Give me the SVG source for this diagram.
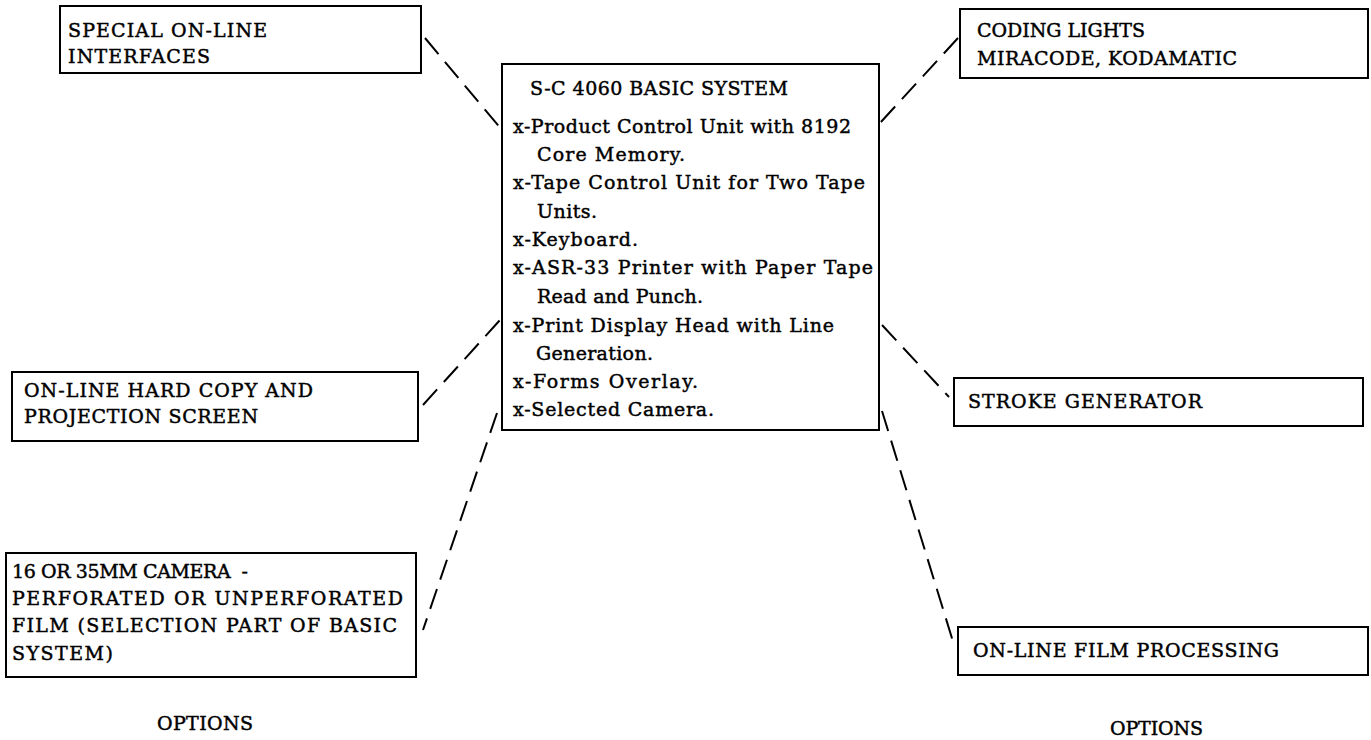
<svg xmlns="http://www.w3.org/2000/svg" width="1371" height="740" viewBox="0 0 1371 740">
<style>
  .box { fill: #ffffff; stroke: #000000; stroke-width: 2; }
  .t { font-family: "DejaVu Serif", "Liberation Serif", serif; font-size: 19px; fill: #000000; stroke: #000000; stroke-width: 0.45; }
  .conn { fill: none; stroke: #000000; stroke-width: 2; stroke-dasharray: 21 10; }
</style>
<rect x="0" y="0" width="1371" height="740" fill="#ffffff"/>
<g id="connectors">
  <line class="conn" x1="425" y1="38" x2="502" y2="130"/>
  <line class="conn" x1="958" y1="38" x2="880" y2="123"/>
  <line class="conn" x1="423" y1="405" x2="500" y2="320"/>
  <line class="conn" x1="497" y1="413" x2="423" y2="630"/>
  <line class="conn" x1="882" y1="325" x2="949" y2="397"/>
  <line class="conn" x1="882" y1="411" x2="955" y2="648"/>
</g>
<g id="special">
  <rect class="box" x="60" y="6" width="361" height="67"/>
  <text class="t" x="68" y="37" textLength="199" lengthAdjust="spacing">SPECIAL ON-LINE</text>
  <text class="t" x="68" y="63" textLength="142" lengthAdjust="spacing">INTERFACES</text>
</g>
<g id="basic">
  <rect class="box" x="502" y="64" width="377" height="366"/>
  <text class="t" x="530" y="95" textLength="258" lengthAdjust="spacing">S-C 4060 BASIC SYSTEM</text>
  <text class="t" x="513" y="133" textLength="338" lengthAdjust="spacing">x-Product Control Unit with 8192</text>
  <text class="t" x="537" y="161" textLength="148" lengthAdjust="spacing">Core Memory.</text>
  <text class="t" x="513" y="189" textLength="352" lengthAdjust="spacing">x-Tape Control Unit for Two Tape</text>
  <text class="t" x="537" y="218" textLength="60" lengthAdjust="spacing">Units.</text>
  <text class="t" x="513" y="246" textLength="125" lengthAdjust="spacing">x-Keyboard.</text>
  <text class="t" x="513" y="274" textLength="360" lengthAdjust="spacing">x-ASR-33 Printer with Paper Tape</text>
  <text class="t" x="537" y="303" textLength="166" lengthAdjust="spacing">Read and Punch.</text>
  <text class="t" x="513" y="332" textLength="321" lengthAdjust="spacing">x-Print Display Head with Line</text>
  <text class="t" x="536" y="360" textLength="117" lengthAdjust="spacing">Generation.</text>
  <text class="t" x="513" y="388" textLength="185" lengthAdjust="spacing">x-Forms Overlay.</text>
  <text class="t" x="513" y="416" textLength="201" lengthAdjust="spacing">x-Selected Camera.</text>
</g>
<g id="coding">
  <rect class="box" x="960" y="9" width="408" height="69"/>
  <text class="t" x="977" y="37" textLength="168" lengthAdjust="spacing">CODING LIGHTS</text>
  <text class="t" x="977" y="65" textLength="260" lengthAdjust="spacing">MIRACODE, KODAMATIC</text>
</g>
<g id="hardcopy">
  <rect class="box" x="12" y="372" width="406" height="69"/>
  <text class="t" x="24" y="397" textLength="289" lengthAdjust="spacing">ON-LINE HARD COPY AND</text>
  <text class="t" x="24" y="423" textLength="234" lengthAdjust="spacing">PROJECTION SCREEN</text>
</g>
<g id="stroke">
  <rect class="box" x="954" y="378" width="409" height="48"/>
  <text class="t" x="968" y="408" textLength="234" lengthAdjust="spacing">STROKE GENERATOR</text>
</g>
<g id="camera">
  <rect class="box" x="6" y="553" width="410" height="124"/>
  <text class="t" x="12" y="578" textLength="236" lengthAdjust="spacing">16 OR 35MM CAMERA &#160;-</text>
  <text class="t" x="12" y="605" textLength="391" lengthAdjust="spacing">PERFORATED OR UNPERFORATED</text>
  <text class="t" x="12" y="632" textLength="385" lengthAdjust="spacing">FILM (SELECTION PART OF BASIC</text>
  <text class="t" x="12" y="660" textLength="101" lengthAdjust="spacing">SYSTEM)</text>
</g>
<g id="film">
  <rect class="box" x="958" y="627" width="410" height="48"/>
  <text class="t" x="973" y="657" textLength="306" lengthAdjust="spacing">ON-LINE FILM PROCESSING</text>
</g>
<g id="labels">
  <text class="t" x="157" y="730" textLength="96" lengthAdjust="spacing">OPTIONS</text>
  <text class="t" x="1110" y="735" textLength="93" lengthAdjust="spacing">OPTIONS</text>
</g>
</svg>
